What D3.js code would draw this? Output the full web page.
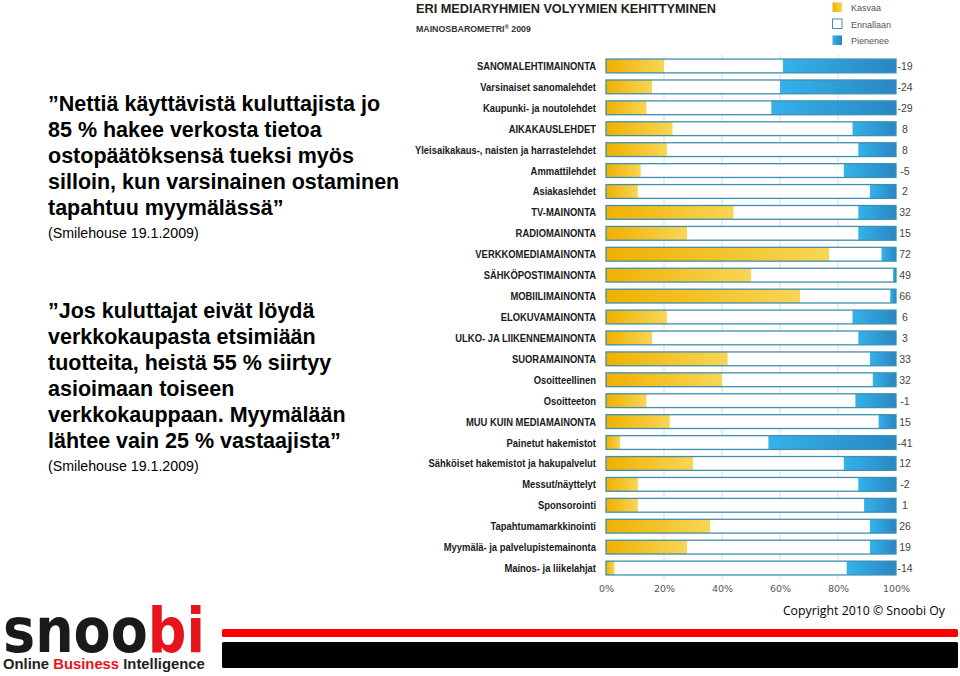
<!DOCTYPE html>
<html><head><meta charset="utf-8">
<script src="https://cdn.jsdelivr.net/npm/d3@7"></script>
<style>body{margin:0;background:#fff;}svg{display:block;}</style>
</head><body>
<svg id="c" width="960" height="676"></svg>
<script>
const categories = ["SANOMALEHTIMAINONTA","Varsinaiset sanomalehdet","Kaupunki- ja noutolehdet","AIKAKAUSLEHDET","Yleisaikakaus-, naisten ja harrastelehdet","Ammattilehdet","Asiakaslehdet","TV-MAINONTA","RADIOMAINONTA","VERKKOMEDIAMAINONTA","SÄHKÖPOSTIMAINONTA","MOBIILIMAINONTA","ELOKUVAMAINONTA","ULKO- JA LIIKENNEMAINONTA","SUORAMAINONTA","Osoitteellinen","Osoitteeton","MUU KUIN MEDIAMAINONTA","Painetut hakemistot","Sähköiset hakemistot ja hakupalvelut","Messut/näyttelyt","Sponsorointi","Tapahtumamarkkinointi","Myymälä- ja palvelupistemainonta","Mainos- ja liikelahjat"];
const kasvaa    = [20,16,14,23,21,12,11,44,28,77,50,67,21,16,42,40,14,22,5,30,11,11,36,28,3];
const ennallaan = [41,44,43,62,66,70,80,43,59,18,49,31,64,71,49,52,72,72,51,52,76,78,55,63,80];
const pienenee  = [39,40,43,15,13,18,9,13,13,5,1,2,15,13,9,8,14,6,44,18,13,11,9,9,17];
const netLabels = ["-19","-24","-29","8","8","-5","2","32","15","72","49","66","6","3","33","32","-1","15","-41","12","-2","1","26","19","-14"];
const xTicks = [0,20,40,60,80,100];
const seriesNames = ["Kasvaa","Ennallaan","Pienenee"];

const svg = d3.select("#c");
const defs = svg.append("defs");
const gy = defs.append("linearGradient").attr("id","gy");
gy.append("stop").attr("offset","0%").attr("stop-color","#f0b000");
gy.append("stop").attr("offset","100%").attr("stop-color","#f8d655");
const gb = defs.append("linearGradient").attr("id","gb");
gb.append("stop").attr("offset","0%").attr("stop-color","#35b2ea");
gb.append("stop").attr("offset","100%").attr("stop-color","#2886c3");
const fills = ["url(#gy)","#ffffff","url(#gb)"];
const border = "#3f8fae";

// Left quotes
const quote1 = ["”Nettiä käyttävistä kuluttajista jo","85 % hakee verkosta tietoa","ostopäätöksensä tueksi myös","silloin, kun varsinainen ostaminen","tapahtuu myymälässä”"];
const quote2 = ["”Jos kuluttajat eivät löydä","verkkokaupasta etsimiään","tuotteita, heistä 55 % siirtyy","asioimaan toiseen","verkkokauppaan. Myymälään","lähtee vain 25 % vastaajista”"];
const src = "(Smilehouse 19.1.2009)";
function block(lines, y0){
  const g = svg.append("g");
  lines.forEach((t,i)=>g.append("text").attr("x",48).attr("y",y0+i*25.9)
    .attr("font-family","Liberation Sans, Arial, sans-serif").attr("font-weight","bold")
    .attr("font-size",21.5).attr("fill","#000").text(t));
  g.append("text").attr("x",48).attr("y",y0+(lines.length-1)*25.9+23)
    .attr("font-family","Liberation Sans, Arial, sans-serif").attr("font-size",14.2).attr("fill","#000").text(src);
}
block(quote1,111);
block(quote2,318);

// Chart
const x = d3.scaleLinear().domain([0,100]).range([606,896]);
const y = d3.scaleBand().domain(categories).range([55.5,578.5]).paddingInner(0.34).paddingOuter(0.17);

svg.append("text").attr("x",416).attr("y",13).attr("font-family","Liberation Sans, Arial, sans-serif")
  .attr("font-weight","bold").attr("font-size",13).attr("fill","#222").attr("textLength",300).attr("lengthAdjust","spacingAndGlyphs")
  .text("ERI MEDIARYHMIEN VOLYYMIEN KEHITTYMINEN");
const sub = svg.append("text").attr("x",416).attr("y",32).attr("font-family","Liberation Sans, Arial, sans-serif")
  .attr("font-weight","bold").attr("font-size",8.8).attr("fill","#333");
sub.append("tspan").text("MAINOSBAROMETRI");
sub.append("tspan").attr("font-size",6).attr("dy",-3).text("®");
sub.append("tspan").attr("dy",3).text(" 2009");

// legend
const lg = svg.append("g");
seriesNames.forEach((n,i)=>{
  lg.append("rect").attr("x",832.5).attr("y",2.5+i*16.5).attr("width",9.5).attr("height",9.5)
    .attr("fill",fills[i]).attr("stroke", i===1?"#3f8fae":"none").attr("stroke-width",1);
  lg.append("text").attr("x",851).attr("y",11+i*16.5).attr("font-family","Liberation Sans, Arial, sans-serif")
    .attr("font-size",9).attr("fill","#555").text(n);
});

// gridlines
svg.append("g").selectAll("line").data(xTicks.filter(d=>d>0&&d<100)).join("line")
  .attr("x1",d=>x(d)).attr("x2",d=>x(d)).attr("y1",55).attr("y2",579)
  .attr("stroke","#cfdde6").attr("stroke-width",1);

// bars
const rows = categories.map((c,i)=>({c, v:[kasvaa[i],ennallaan[i],pienenee[i]], net:netLabels[i]}));
const rg = svg.append("g").selectAll("g").data(rows).join("g");
rg.each(function(d){
  const g = d3.select(this);
  let acc = 0;
  d.v.forEach((v,j)=>{
    g.append("rect").attr("x",x(acc)).attr("y",y(d.c)).attr("width",x(acc+v)-x(acc)).attr("height",y.bandwidth())
      .attr("fill",fills[j]);
    acc += v;
  });
  g.append("rect").attr("x",x(0)).attr("y",y(d.c)).attr("width",x(100)-x(0)).attr("height",y.bandwidth())
    .attr("fill","none").attr("stroke",border).attr("stroke-width",1.3);
});
// category labels (condensed)
svg.append("g").selectAll("g").data(rows).join("g")
  .attr("transform",d=>`translate(596,${y(d.c)+y.bandwidth()/2+4}) scale(0.82,1)`)
  .append("text").attr("x",0).attr("y",0).attr("text-anchor","end")
  .attr("font-family","Liberation Sans, Arial, sans-serif")
  .attr("font-weight","bold").attr("font-size",11.5).attr("fill","#1a1a1a").text(d=>d.c);
// net labels
svg.append("g").selectAll("text").data(rows).join("text")
  .attr("x",905).attr("y",d=>y(d.c)+y.bandwidth()/2+4).attr("text-anchor","middle")
  .attr("font-family","Liberation Sans, Arial, sans-serif").attr("font-size",10.5).attr("fill","#444").text(d=>d.net);

// x axis
const ax = svg.append("g").attr("transform","translate(0,580)")
  .call(d3.axisBottom(x).tickValues(xTicks).tickFormat(d=>d+"%").tickSize(0));
ax.select(".domain").remove();
ax.selectAll("text").attr("font-family","DejaVu Sans, sans-serif").attr("font-size",9.5).attr("fill","#555").attr("dy","0.9em");

// footer
svg.append("rect").attr("x",222).attr("y",629).attr("width",736).attr("height",8).attr("fill","#ff0000").attr("rx",1.5);
svg.append("rect").attr("x",222).attr("y",642).attr("width",736).attr("height",26).attr("fill","#000").attr("rx",1.5);
svg.append("text").attr("x",945).attr("y",615).attr("text-anchor","end").attr("font-family","Open Sans, Lato, sans-serif")
  .attr("font-size",12.3).attr("fill","#000").text("Copyright 2010 © Snoobi Oy");

function fitGroup(g, targetW){
  const t = g.select("text").node();
  const w = t.getComputedTextLength();
  const s = targetW / w;
  g.attr("transform", g.attr("transform") + ` scale(${s},1)`);
}
const lgG = svg.append("g").attr("transform","translate(3,652)");
const logo = lgG.append("text").attr("x",0).attr("y",0).attr("font-family","DejaVu Sans, sans-serif")
  .attr("font-weight","bold").attr("font-size",62);
logo.append("tspan").attr("fill","#1a1a1a").text("snoo");
logo.append("tspan").attr("fill","#e8141c").text("bi");
fitGroup(lgG, 202);
const tgG = svg.append("g").attr("transform","translate(3,669)");
const tag = tgG.append("text").attr("x",0).attr("y",0).attr("font-family","Liberation Sans, Arial, sans-serif")
  .attr("font-weight","bold").attr("font-size",14);
tag.append("tspan").attr("fill","#222").text("Online ");
tag.append("tspan").attr("fill","#e8141c").text("Business");
tag.append("tspan").attr("fill","#222").text(" Intelligence");
fitGroup(tgG, 202);
</script>
</body></html>
